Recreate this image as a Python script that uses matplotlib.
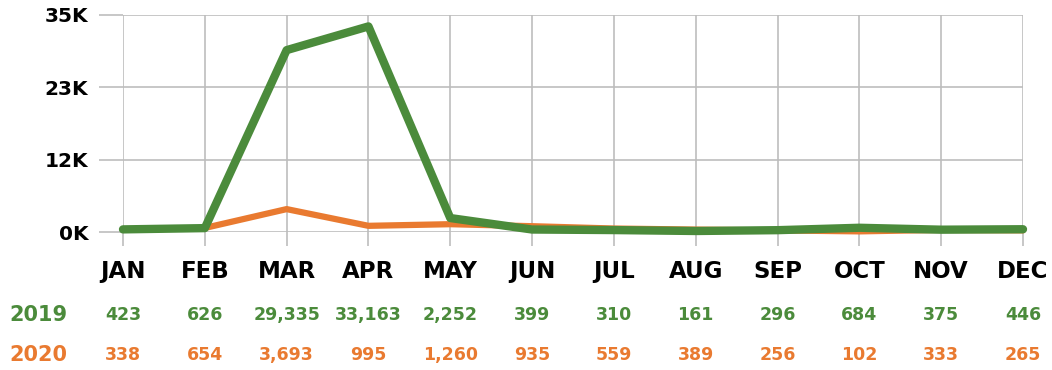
import matplotlib
matplotlib.use("Agg")
import matplotlib.pyplot as plt

# monthly counts, two years
months = ["JAN", "FEB", "MAR", "APR", "MAY", "JUN", "JUL", "AUG", "SEP", "OCT", "NOV", "DEC"]
vals_2019 = [423, 626, 29335, 33163, 2252, 399, 310, 161, 296, 684, 375, 446]
vals_2020 = [338, 654, 3693, 995, 1260, 935, 559, 389, 256, 102, 333, 265]
ytick_vals = [0, 35000 / 3, 2 * 35000 / 3, 35000]
ytick_labels = ["0K", "12K", "23K", "35K"]

green = "#4b8b3b"
orange = "#e97a30"
grid_c = "#bdbdbd"

plt.rcParams['font.family'] = ['DejaVu Sans']

fig = plt.figure(figsize=(10.52, 3.70), dpi=100)
ax = fig.add_axes([123 / 1052, 138 / 370, 900 / 1052, 217 / 370])

x = list(range(len(months)))
ax.plot(x, vals_2020, color=orange, lw=4.5, solid_capstyle='round', solid_joinstyle='round',
        clip_on=False, zorder=3)
ax.plot(x, vals_2019, color=green, lw=6, solid_capstyle='round', solid_joinstyle='round',
        clip_on=False, zorder=4)

ax.set_xlim(0, 11)
ax.set_ylim(0, 35000)
ax.set_xticks(x)
ax.set_xticklabels([])
ax.set_yticks(ytick_vals)
ax.set_yticklabels(ytick_labels, fontsize=14.5, fontweight='bold')
ax.tick_params(axis='y', length=17, width=1.2, color=grid_c, pad=8)
ax.tick_params(axis='x', length=10, width=1.2, color=grid_c)
ax.grid(True, color=grid_c, lw=1.2)
ax.set_axisbelow(True)
for s in ax.spines.values():
    s.set_visible(False)

# month names and the value table under the chart
tr = ax.get_xaxis_transform()
for i, m in enumerate(months):
    ax.text(i, -0.184, m, transform=tr, ha='center', va='center',
            fontsize=16.5, fontweight='bold', color='black')
    ax.text(i, -0.382, f"{vals_2019[i]:,}", transform=tr, ha='center', va='center',
            fontsize=12.5, fontweight='bold', color=green)
    ax.text(i, -0.567, f"{vals_2020[i]:,}", transform=tr, ha='center', va='center',
            fontsize=12.5, fontweight='bold', color=orange)

fig.text(38 / 1052, 1 - 315 / 370, "2019", ha='center', va='center',
         fontsize=15, fontweight='bold', color=green)
fig.text(38 / 1052, 1 - 355 / 370, "2020", ha='center', va='center',
         fontsize=15, fontweight='bold', color=orange)

fig.savefig("out.png", dpi=100)
